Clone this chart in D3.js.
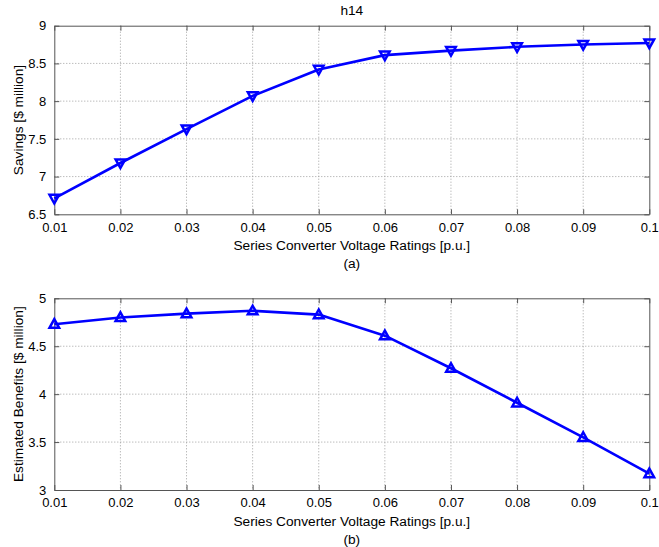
<!DOCTYPE html>
<html>
<head>
<meta charset="utf-8">
<script src="https://cdn.jsdelivr.net/npm/d3@7"></script>
<style>
  body { margin: 0; background: #fff; }
  text { font-family: "Liberation Sans", Arial, sans-serif; fill: #000; }
</style>
</head>
<body>
<div id="chart"></div>
<script>
// converter voltage ratings [p.u.]
const ratings = [0.01, 0.02, 0.03, 0.04, 0.05, 0.06, 0.07, 0.08, 0.09, 0.1]
const savings = [6.71, 7.18, 7.63, 8.07, 8.42, 8.61, 8.67, 8.72, 8.75, 8.77]
const benefits = [4.73, 4.80, 4.84, 4.87, 4.83, 4.61, 4.27, 3.91, 3.55, 3.17]
const xTickLabels = ['0.01', '0.02', '0.03', '0.04', '0.05', '0.06', '0.07', '0.08', '0.09', '0.1']
const savingsTicks = [6.5, 7, 7.5, 8, 8.5, 9]
const benefitTicks = [3, 3.5, 4, 4.5, 5]

const width = 659
const height = 547
const left = 54.3, right = 649.3
const fs = '13.7px'
const tickFs = '13px'

const svg = d3.select('#chart')
  .append('svg')
  .attr('width', width)
  .attr('height', height)

const x = d3.scaleLinear()
  .domain([0.01, 0.1])
  .range([left, right])

function panel(opts) {
  const y = d3.scaleLinear()
    .domain(opts.domain)
    .range([opts.bottom, opts.top])

  const g = svg.append('g')

  // dotted grid
  g.append('g').selectAll('line.gx')
    .data(ratings.slice(1, -1))
    .enter().append('line')
    .attr('x1', d => x(d)).attr('x2', d => x(d))
    .attr('y1', opts.top).attr('y2', opts.bottom)
    .attr('stroke', '#a0a0a0')
    .attr('stroke-dasharray', '1,2')
  g.append('g').selectAll('line.gy')
    .data(opts.ticks.slice(1, -1))
    .enter().append('line')
    .attr('x1', left).attr('x2', right)
    .attr('y1', d => y(d)).attr('y2', d => y(d))
    .attr('stroke', '#a0a0a0')
    .attr('stroke-dasharray', '1,2')

  // axes, ticks inward on all four sides
  const bottomAxis = d3.axisBottom(x).tickValues(ratings)
    .tickFormat((d, i) => xTickLabels[i]).tickSizeInner(-5).tickSizeOuter(0).tickPadding(8)
  const topAxis = d3.axisTop(x).tickValues(ratings).tickFormat('').tickSizeInner(-5).tickSizeOuter(0)
  const leftAxis = d3.axisLeft(y).tickValues(opts.ticks)
    .tickFormat(d3.format('')).tickSizeInner(-5).tickSizeOuter(0).tickPadding(8)
  const rightAxis = d3.axisRight(y).tickValues(opts.ticks).tickFormat('').tickSizeInner(-5).tickSizeOuter(0)

  const ax = [
    g.append('g').attr('transform', `translate(0,${opts.bottom})`).call(bottomAxis),
    g.append('g').attr('transform', `translate(0,${opts.top})`).call(topAxis),
    g.append('g').attr('transform', `translate(${left},0)`).call(leftAxis),
    g.append('g').attr('transform', `translate(${right},0)`).call(rightAxis)
  ]
  ax.forEach(a => {
    a.select('.domain').attr('stroke', '#555').attr('stroke-width', 1)
    a.selectAll('.tick line').attr('stroke', '#555')
    a.selectAll('text').style('font-size', tickFs).style('font-family', '"Liberation Sans", Arial, sans-serif').attr('fill', '#000')
  })

  // data line
  const line = d3.line()
    .x((d, i) => x(ratings[i]))
    .y(d => y(d))
  g.append('path')
    .datum(opts.values)
    .attr('d', line)
    .attr('fill', 'none')
    .attr('stroke', '#0000ff')
    .attr('stroke-width', 2.6)
    .attr('stroke-linejoin', 'round')

  // triangle markers
  const s = 4.8
  const tri = opts.down
    ? `M${-s},${-s * 0.75}L${s},${-s * 0.75}L0,${s * 1.05}Z`
    : `M${-s},${s * 0.75}L${s},${s * 0.75}L0,${-s * 1.05}Z`
  g.append('g').selectAll('path')
    .data(opts.values)
    .enter().append('path')
    .attr('transform', (d, i) => `translate(${x(ratings[i])},${y(d)})`)
    .attr('d', tri)
    .attr('fill', 'none')
    .attr('stroke', '#0000ff')
    .attr('stroke-width', 2.5)
    .attr('stroke-linejoin', 'miter')

  // labels
  svg.append('text')
    .attr('x', (left + right) / 2).attr('y', opts.bottom + 36)
    .attr('text-anchor', 'middle').style('font-size', fs)
    .text('Series Converter Voltage Ratings [p.u.]')
  svg.append('text')
    .attr('x', (left + right) / 2).attr('y', opts.bottom + 54)
    .attr('text-anchor', 'middle').style('font-size', fs)
    .text(opts.tag)
  svg.append('text')
    .attr('transform', `translate(23,${(opts.top + opts.bottom) / 2}) rotate(-90)`)
    .attr('text-anchor', 'middle').style('font-size', fs)
    .text(opts.ylabel)
}

svg.append('text')
  .attr('x', (left + right) / 2).attr('y', 15)
  .attr('text-anchor', 'middle').style('font-size', fs)
  .text('h14')

panel({ top: 25.7, bottom: 214.3, domain: [6.5, 9], ticks: savingsTicks, values: savings,
  down: true, tag: '(a)', ylabel: 'Savings [$ million]' })
panel({ top: 298.3, bottom: 490, domain: [3, 5], ticks: benefitTicks, values: benefits,
  down: false, tag: '(b)', ylabel: 'Estimated Benefits [$ million]' })
</script>
</body>
</html>
